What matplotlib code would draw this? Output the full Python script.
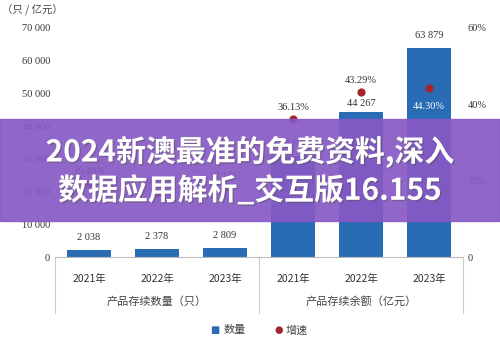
import matplotlib.pyplot as plt
import matplotlib.patheffects as pe
from matplotlib.patches import Rectangle
from matplotlib.ticker import FuncFormatter

plt.rcParams['font.family'] = ['Liberation Serif', 'Noto Sans CJK SC']

years = ['2021年', '2022年', '2023年', '2021年', '2022年', '2023年']
groups = ['产品存续数量（只）', '产品存续余额（亿元）']
values = [2038, 2378, 2809, 30893, 44267, 63879]
growth = [19.46, 16.68, 18.12, 36.13, 43.29, 44.30]

bar_c = '#2a6cb3'
dot_c = '#a3262c'

fig = plt.figure(figsize=(5, 3.4), dpi=100)
ax = fig.add_axes([0.11, 0.244, 0.816, 0.674])
ax2 = ax.twinx()

x = list(range(len(values)))
ax.bar(x, values, width=0.65, color=bar_c, zorder=2)
ax.set_xlim(-0.5, 5.5)
ax.set_ylim(0, 70000)
ax.set_yticks(range(0, 70001, 10000))
ax.yaxis.set_major_formatter(FuncFormatter(lambda v, p: f'{int(v):,}'.replace(',', ' ')))
ax.set_xticks(x)
ax.set_xticklabels(years, fontsize=8, family=['Noto Sans CJK SC'], color='#333333')
ax.tick_params(length=0, labelsize=7.5, colors='#333333')
ax.tick_params(axis='x', pad=12)
for s in ['top', 'left', 'right']:
    ax.spines[s].set_visible(False)
ax.spines['bottom'].set_color('#bbbbbb')

# value labels
offs = [6, 6, 6, 6, 3, 6]
for i, v in enumerate(values):
    ax.annotate(f'{v:,}'.replace(',', ' '), (i, v), xytext=(0, offs[i]),
                textcoords='offset points', ha='center', va='bottom',
                fontsize=7.5, color='#333333')

ax2.scatter(x, growth, s=24, color=dot_c, zorder=3)
ax2.set_ylim(0, 60)
ax2.set_yticks([0, 20, 40, 60])
ax2.set_yticklabels(['0', '20%', '40%', '60%'])
ax2.tick_params(length=0, labelsize=7.5, colors='#333333')
for s in ['top', 'left', 'right', 'bottom']:
    ax2.spines[s].set_visible(False)
for i, g in enumerate(growth):
    if i == 5:
        ax2.annotate(f'{g:.2f}%', (i, g), xytext=(0, -10), textcoords='offset points',
                     ha='center', va='top', fontsize=7.5, color='white')
    else:
        ax2.annotate(f'{g:.2f}%', (i, g), xytext=(0, 5), textcoords='offset points',
                     ha='center', va='bottom', fontsize=7.5, color='#333333')

# separators below the axis
for xs in [-0.5, 2.5, 5.5]:
    ax.axvline(xs, ymin=-0.245, ymax=0, color='#cccccc', lw=0.8, clip_on=False)
for k, g in enumerate(groups):
    ax.text(1 + 3 * k, -0.195, g, transform=ax.get_xaxis_transform(), ha='center',
            va='center', fontsize=8, color='#444444', family=['Noto Sans CJK SC'])

fig.text(0.005, 0.97, '（只 / 亿元）', fontsize=7.5, color='#444444',
         va='center', family=['Noto Sans CJK SC'])

# legend
fig.text(0.43, 0.028, '■', color=bar_c, fontsize=7, va='center', ha='center',
         family=['DejaVu Sans'])
fig.text(0.447, 0.028, '数量', color='#444444', fontsize=8, va='center',
         family=['Noto Sans CJK SC'])
fig.text(0.558, 0.028, '●', color=dot_c, fontsize=7, va='center', ha='center',
         family=['DejaVu Sans'])
fig.text(0.571, 0.028, '增速', color='#444444', fontsize=8, va='center',
         family=['Noto Sans CJK SC'])

# purple banner
fig.patches.append(Rectangle((0, 0.35), 1, 0.30, transform=fig.transFigure,
                             color='#8759c4', alpha=0.92, zorder=10))
for ty, line in [(0.553, '2024新澳最准的免费资料,深入'), (0.44, '数据应用解析_交互版16.155')]:
    fig.text(0.5, ty, line, ha='center', va='center', fontsize=21.5, weight='bold',
             color='white', family=['Noto Sans CJK SC'], zorder=11,
             path_effects=[pe.withSimplePatchShadow(offset=(1, -1), alpha=0.4)])

fig.savefig('out.png')
